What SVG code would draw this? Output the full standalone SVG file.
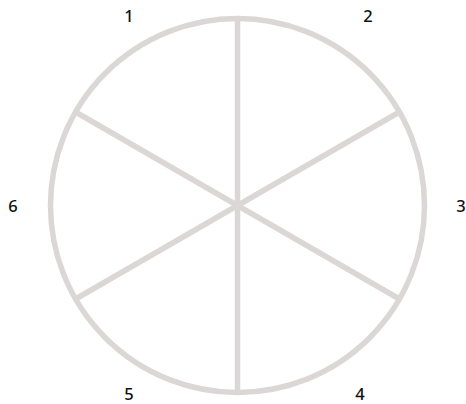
<svg xmlns="http://www.w3.org/2000/svg" width="466" height="404" viewBox="0 0 466 404">
<style>
.ring{fill:none;stroke:#dcd7d7;stroke-width:5.5}
.spoke{stroke:#dcd7d7;stroke-width:5.5;stroke-linecap:butt}
.lbl{font-family:"Noto Sans","Liberation Sans",sans-serif;font-size:16.5px;font-weight:500;fill:#111;text-anchor:middle}
</style>
<rect width="466" height="404" fill="#fff"/>
<g id="wheel">
<circle class="ring" cx="237.5" cy="205.5" r="187"/>
</g>
<g id="connectors">
<line class="spoke" x1="237.5" y1="205.5" x2="237.5" y2="18.5"/>
<line class="spoke" x1="237.5" y1="205.5" x2="237.5" y2="392.5"/>
<line class="spoke" x1="237.5" y1="205.5" x2="399.4" y2="112"/>
<line class="spoke" x1="237.5" y1="205.5" x2="399.4" y2="299"/>
<line class="spoke" x1="237.5" y1="205.5" x2="75.6" y2="112"/>
<line class="spoke" x1="237.5" y1="205.5" x2="75.6" y2="299"/>
</g>
<g id="label1"><text class="lbl" x="129" y="22">1</text></g>
<g id="label2"><text class="lbl" x="368" y="22">2</text></g>
<g id="label3"><text class="lbl" x="461" y="212">3</text></g>
<g id="label4"><text class="lbl" x="360" y="400">4</text></g>
<g id="label5"><text class="lbl" x="129" y="400">5</text></g>
<g id="label6"><text class="lbl" x="13" y="212">6</text></g>
</svg>
